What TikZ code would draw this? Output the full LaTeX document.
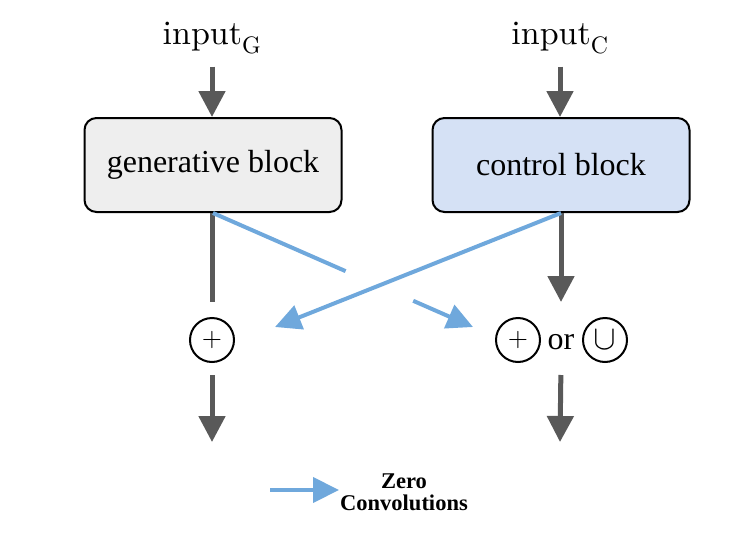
\documentclass[tikz,border=0pt]{standalone}
\usepackage[no-math]{fontspec}
\newfontfamily\serifface{Liberation Serif}
\newfontfamily\labelface{lmroman10-regular.otf}
\newfontfamily\symface{latinmodern-math.otf}
\usepackage{xcolor,tikz}
\usetikzlibrary{arrows.meta,positioning,calc}
\definecolor{shaft}{HTML}{595959}
\definecolor{zeroblue}{HTML}{6FA8DC}
\definecolor{genfill}{HTML}{EEEEEE}
\definecolor{ctrlfill}{HTML}{D5E1F5}
\tikzset{block/.style={draw=black,line width=2pt,rounded corners=12pt,
  minimum width=257pt,minimum height=94pt,font=\serifface\fontsize{32}{36}\selectfont},
  inlabel/.style={inner sep=0pt,font=\labelface\fontsize{34}{38}\selectfont},
  op/.style={circle,draw=black,line width=2pt,minimum size=44pt,inner sep=0pt,
  font=\labelface\fontsize{26}{30}\selectfont},
  flow/.style={-{Triangle[width=26pt,length=26pt]},line width=5pt,draw=shaft},
  zeroconv/.style={-{Triangle[width=25pt,length=26pt]},line width=4pt,draw=zeroblue}}

\begin{document}
\begin{tikzpicture}[x=1pt,y=-1pt]
\useasboundingbox (0,0) rectangle (747,549);
% inputs and blocks
\node[inlabel] (inG) at (212,38) {input\textsubscript{G}};
\node[inlabel] (inC) at (560,38) {input\textsubscript{C}};
\node[block,fill=genfill] (gen) at (213,165) {generative block};
\node[block,fill=ctrlfill] (ctrl) at (561,165) {control block};
% merge operators
\node[op] (addL) at (212,340) {+};
\node[op] (addR) at (518,340) {+};
\node[font=\serifface\fontsize{32}{36}\selectfont,inner sep=0pt] (orR) at (561,342) {or};
\node[op,font=\symface\fontsize{34}{36}\selectfont] (cupR) at (605,340) {∪};
\coordinate (outL) at (212,442);
\coordinate (outR) at (560,442);
\coordinate (tipL) at (275,327);
\coordinate (tipR) at (473,327);
% gray flow
\draw[flow,shorten <=13pt] (inG.south) -- (inG.south|-gen.north);
\draw[flow,shorten <=13pt] (inC.south) -- (inC.south|-ctrl.north);
\draw[line width=5pt,draw=shaft,shorten >=15pt] (addL|-gen.south) -- (addL.north);
\draw[flow,shorten >=15pt] (orR|-ctrl.south) -- (orR|-addR.north);
\draw[flow,shorten <=12pt] (addL.south) -- (outL);
\draw[flow,shorten <=12pt] (orR|-addR.south) -- (outR);
% zero convolutions (gap where the two cross)
\draw[zeroconv,-] (gen.south) -- ($(gen.south)!0.51!(tipR)$);
\draw[zeroconv] ($(gen.south)!0.77!(tipR)$) -- (tipR);
\draw[zeroconv] (ctrl.south) -- (tipL);
% legend
\node[font=\serifface\bfseries\fontsize{22.5}{22}\selectfont,align=center,inner sep=1pt]
  (zlbl) at (404,492) {Zero\\Convolutions};
\coordinate (zS) at (270,490);
\draw[zeroconv] (zS) -- (zS-|zlbl.west);
\end{tikzpicture}
\end{document}
